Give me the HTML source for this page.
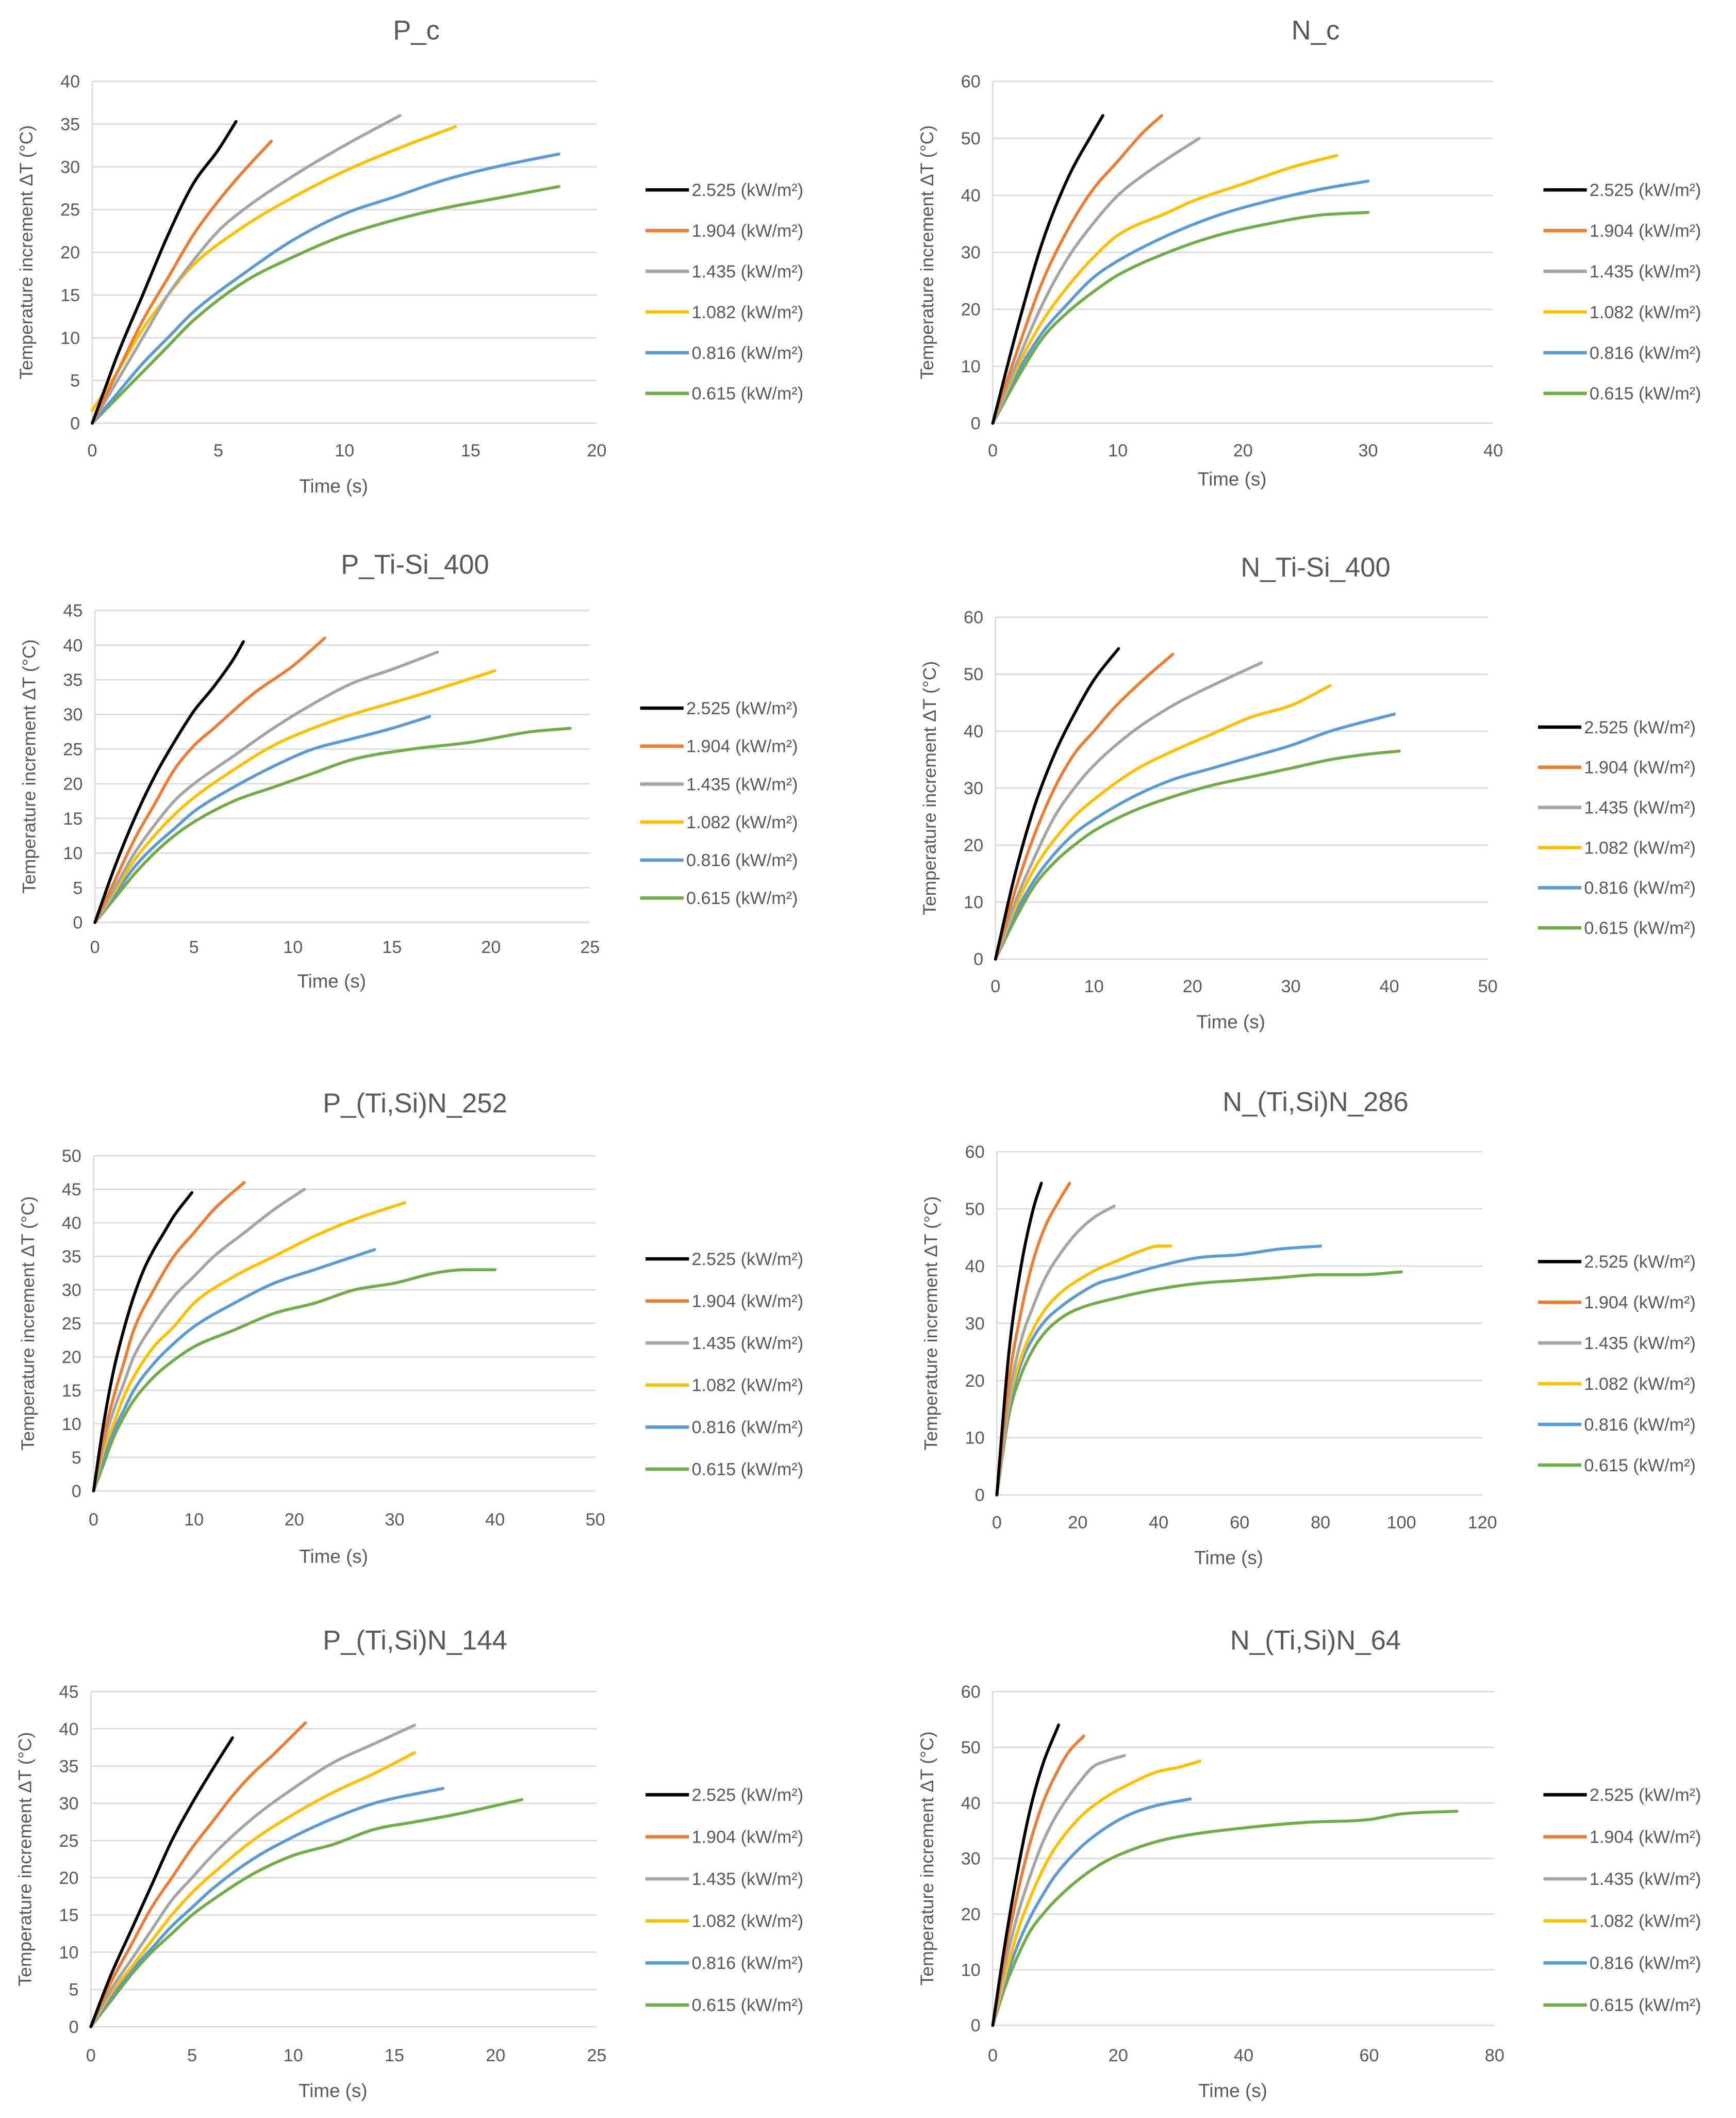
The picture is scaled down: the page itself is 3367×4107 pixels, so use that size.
<!DOCTYPE html>
<html><head><meta charset="utf-8">
<style>
html,body{margin:0;padding:0;background:#fff;}
svg{display:block;}
text{font-family:"Liberation Sans",sans-serif;fill:#595959;}
</style></head>
<body>
<svg id="root" width="3367" height="4107" viewBox="0 0 1280 1561.3" preserveAspectRatio="none" xmlns="http://www.w3.org/2000/svg"></svg>
<script>
// ---- data ----
const seriesLabels = ["2.525 (kW/m²)","1.904 (kW/m²)","1.435 (kW/m²)","1.082 (kW/m²)","0.816 (kW/m²)","0.615 (kW/m²)"];
const seriesColors = ["#000000","#ED7D31","#A5A5A5","#FFC000","#5B9BD5","#70AD47"];

const titles = ["P_c","N_c","P_Ti-Si_400","N_Ti-Si_400","P_(Ti,Si)N_252","N_(Ti,Si)N_286","P_(Ti,Si)N_144","N_(Ti,Si)N_64"];
const yMaxes = [40,60,45,60,50,60,45,60];
const yStepVals = [5,10,5,10,5,10,5,10];
const xMaxes = [20,40,25,50,50,120,25,80];
const xStepVals = [5,10,5,10,10,20,5,20];

const pc_t = [[0,0.5,1,2,3,4,5,5.7],[0,1,2,3,4,5,6,7.1],[0,1,2,3,4,5,6,8,10,12.2],[0,1,2,3,4,6,8,10,12,14.4],[0,1,2,3,4,6,8,10,12,14,16,18.5],[0,1,2,3,4,6,8,10,12,14,16,18.5]];
const pc_y = [[0,4,8,15,22,28,32,35.3],[0,6,12,17,22,26,29.5,33],[0,5,10,15,19,22.5,25,29,32.5,36],[1.5,6,11,15,18.5,23,26.5,29.5,32,34.7],[0,3.5,7,10,13,17.5,21.5,24.5,26.5,28.5,30,31.5],[0,3,6,9,12,16.5,19.5,22,23.8,25.2,26.3,27.7]];
const nc_t = [[0,2,4,6,8,8.8],[0,2,4,6,8,10,12,13.5],[0,2,4,6,8,10,12,14,16.5],[0,2,4,6,8,10,14,16,20,24,27.5],[0,2,4,6,8,10,14,18,22,26,30],[0,2,4,6,8,10,14,18,22,26,30]];
const nc_y = [[0,17,32,43,51,54],[0,13,25,34,41,46,51,54],[0,11,21,29,35,40,43.5,46.5,50],[0,10,18,24,29,33,37,39,42,45,47],[0,9,16,21,25.5,28.5,33,36.5,39,41,42.5],[0,8,15,19.5,23,26,30,33,35,36.5,37]];
const pts_t = [[0,1,2,3,4,5,6,7,7.5],[0,1,2,3,4,5,6,8,10,11.6],[0,1,2,3,4,5,7,9,11,13,15,17.3],[0,1,2,3,4,5,7,9,11,13,16,20.2],[0,1,2,3,4,5,7,9,11,13,15,16.9],[0,1,2,3,4,5,7,9,11,13,16,19,22,24]];
const pts_y = [[0,8,15,21,26,30.5,34,38,40.5],[0,6,12,17,22,25.5,28,33,37,41],[0,5,10,14,17.5,20,24,28,31.5,34.5,36.5,39],[0,4.5,9,12.5,15.5,18,22,25.5,28,30,32.5,36.3],[0,4,8,11,13.5,16,19.5,22.5,25,26.5,28,29.7],[0,3.5,7,10,12.5,14.5,17.5,19.5,21.5,23.5,25,26,27.5,28]];
const nts_t = [[0,2,4,6,8,10,12.5],[0,2,4,6,8,10,12,15,18],[0,2,4,6,8,10,14,18,22,27],[0,2,4,6,8,10,14,18,22,26,30,34],[0,2,4,6,8,10,14,18,22,26,30,34,40.5],[0,2,4,6,8,10,14,18,22,26,30,34,38,41]];
const nts_y = [[0,15,27,36,43,49,54.5],[0,12,22,30,36,40,44,49,53.5],[0,10,18,25,30,34,40,44.5,48,52],[0,9,16,21,25,28,33,36.5,39.5,42.5,44.5,48],[0,8,14,18.5,22,24.5,28.5,31.5,33.5,35.5,37.5,40,43],[0,7,13,17,20,22.5,26,28.5,30.5,32,33.5,35,36,36.5]];
const p252_t = [[0,1,2,3,4,5,6,7,8,9.8],[0,1,2,3,4,6,8,10,12,15],[0,1,2,3,4,6,8,10,12,15,18,21],[0,1,2,3,4,6,8,10,14,18,22,26,31],[0,1,2,3,4,6,8,10,14,18,22,28],[0,1,2,3,4,6,8,10,14,18,22,26,30,34,37,40]];
const p252_y = [[0,10,18,24,29,33,36,38.5,41,44.5],[0,8,14,19,24,30,35,38.5,42,46],[0,7,12,16,20,25,29,32,35,38.5,42,45],[0,6,10,14,17,21.5,24.5,28,32,35,38,40.5,43],[0,5,9,12,15,19,22,24.5,28,31,33,36],[0,4,8,11,13.5,17,19.5,21.5,24,26.5,28,30,31,32.5,33,33]];
const n286_t = [[0,3,6,9,11],[0,3,6,9,12,15,18],[0,3,6,9,12,16,20,24,29],[0,3,6,9,12,16,20,25,30,35,40,43],[0,3,6,9,12,16,20,25,30,40,50,60,70,80],[0,3,6,9,12,16,20,30,40,50,60,70,80,90,100]];
const n286_y = [[0,25,40,50,54.5],[0,20,32,41,47,51,54.5],[0,17,27,33,38,42.5,46,48.5,50.5],[0,16,24,29,32.5,35.5,37.5,39.5,41,42.5,43.5,43.5],[0,15,23,27.5,30.5,33,35,37,38,40,41.5,42,43,43.5],[0,14,21,25.5,28.5,31,32.5,34.5,36,37,37.5,38,38.5,38.5,39]];
const p144_t = [[0,1,2,3,4,5,6,7],[0,1,2,3,4,5,6,7,8,9,10.6],[0,1,2,3,4,5,6,8,10,12,14,16],[0,1,2,3,4,5,6,8,10,12,14,16],[0,1,2,3,4,5,6,8,10,12,14,17.4],[0,1,2,3,4,5,6,8,10,12,14,16,18,21.3]];
const p144_y = [[0,7,13,19,25,30,34.5,38.8],[0,6,11,16,20,24,27.5,31,34,36.5,40.8],[0,5,9,13,17,20,23,28,32,35.5,38,40.5],[0,4.5,8,11.5,15,18,20.5,25,28.5,31.5,34,36.8],[0,4,7.5,10.5,13.5,16,18.5,22.5,25.5,28,30,32],[0,3.5,7,10,12.5,15,17,20.5,23,24.5,26.5,27.5,28.5,30.5]];
const n64_t = [[0,2,4,6,8,10.5],[0,2,4,6,8,10,12,14.5],[0,2,4,6,8,10,12,14,16,18,21],[0,2,4,6,8,10,14,18,22,26,30,33],[0,2,4,6,8,10,14,18,22,26,31.5],[0,2,4,6,8,10,14,18,22,26,30,40,50,60,65,74]];
const n64_y = [[0,15,28,39,47,54],[0,13,24,33,40,45,49,52],[0,11,20,27,33,37.5,41,44,46.5,47.5,48.5],[0,9,17,23,28,32,37.5,41,43.5,45.5,46.5,47.5],[0,8,14.5,19.5,23.5,27,32,35.5,38,39.5,40.7],[0,7,12.5,17,20,22.5,26.5,29.5,31.5,33,34,35.5,36.5,37,38,38.5]];

const allT = [pc_t,nc_t,pts_t,nts_t,p252_t,n286_t,p144_t,n64_t];
const allY = [pc_y,nc_y,pts_y,nts_y,p252_y,n286_y,p144_y,n64_y];

// ---- layout (display units) ----
const layout = [
 {l:68,r:440,t:60,b:312,ty:22,tx:307,tk:332,xl:358,lx:476,ly0:140,lstep:30},
 {l:732,r:1101,t:60,b:312,ty:22,tx:970,tk:332,xl:353,lx:1138,ly0:140,lstep:30},
 {l:70,r:435,t:450,b:680,ty:416,tx:306,tk:698,xl:723,lx:472,ly0:522,lstep:28},
 {l:734,r:1097,t:455,b:707,ty:418,tx:970,tk:727,xl:753,lx:1134,ly0:536,lstep:29.6},
 {l:69,r:439,t:852,b:1099,ty:813,tx:306,tk:1120,xl:1147,lx:476,ly0:928,lstep:31},
 {l:735,r:1093,t:849,b:1102,ty:812,tx:970,tk:1122,xl:1148,lx:1134,ly0:930,lstep:30},
 {l:67,r:440,t:1247,b:1494,ty:1209,tx:306,tk:1515,xl:1541,lx:476,ly0:1323,lstep:31},
 {l:732,r:1102,t:1247,b:1493,ty:1209,tx:970,tk:1515,xl:1541,lx:1138,ly0:1323,lstep:31}
];

const NS="http://www.w3.org/2000/svg";
const root=document.getElementById('root');
function mk(tag,attrs,parent){const e=document.createElementNS(NS,tag);for(const k in attrs)e.setAttribute(k,attrs[k]);parent.appendChild(e);return e;}

// monotone cubic path through pixel points
function smoothPath(X,Y){
  const n=X.length;
  if(n<3){let d='';for(let i=0;i<n;i++)d+=(i?'L':'M')+X[i]+','+Y[i];return d;}
  const dx=[],m=[],tg=[];
  for(let i=0;i<n-1;i++){dx.push(X[i+1]-X[i]);m.push((Y[i+1]-Y[i])/(X[i+1]-X[i]));}
  tg[0]=m[0];tg[n-1]=m[n-2];
  for(let i=1;i<n-1;i++){tg[i]=(m[i-1]*m[i]<=0)?0:(m[i-1]+m[i])/2;}
  for(let i=0;i<n-1;i++){
    if(m[i]===0){tg[i]=0;tg[i+1]=0;continue;}
    const a=tg[i]/m[i],b=tg[i+1]/m[i],s=a*a+b*b;
    if(s>9){const t=3/Math.sqrt(s);tg[i]=t*a*m[i];tg[i+1]=t*b*m[i];}
  }
  let d='M'+X[0].toFixed(2)+','+Y[0].toFixed(2);
  for(let i=0;i<n-1;i++){
    const h=dx[i]/3;
    d+='C'+(X[i]+h).toFixed(2)+','+(Y[i]+tg[i]*h).toFixed(2)+' '+(X[i+1]-h).toFixed(2)+','+(Y[i+1]-tg[i+1]*h).toFixed(2)+' '+X[i+1].toFixed(2)+','+Y[i+1].toFixed(2);
  }
  return d;
}

for(let c=0;c<8;c++){
  const L=layout[c];
  const g=mk('g',{},root);
  
  
  const xs=v=>L.l+(v/xMaxes[c])*(L.r-L.l);
  const ys=v=>L.b-(v/yMaxes[c])*(L.b-L.t);
  const cx=(L.l+L.r)/2;
  const tt=mk('text',{x:L.tx,y:L.ty+7,'text-anchor':'middle','font-size':20},g);
  tt.textContent=titles[c];
  
  
  for(let v=0;v<=yMaxes[c]+1e-9;v+=yStepVals[c]){
    const ln=mk('line',{x1:L.l,x2:L.r,y1:ys(v),y2:ys(v),stroke:'#d9d9d9','stroke-width':1},g);
    
    
    const t=mk('text',{x:L.l-9,y:ys(v)+4.5,'text-anchor':'end','font-size':13},g);
    t.textContent=String(v);
    
    
  }
  const ax=mk('line',{x1:L.l,x2:L.l,y1:L.t,y2:L.b,stroke:'#d9d9d9','stroke-width':1},g);
  
  
  for(let v=0;v<=xMaxes[c]+1e-9;v+=xStepVals[c]){
    const t=mk('text',{x:xs(v),y:L.tk+4.5,'text-anchor':'middle','font-size':13},g);
    t.textContent=String(v);
    
    
  }
  const xl=mk('text',{x:cx-8,y:L.xl+5,'text-anchor':'middle','font-size':14},g);
  xl.textContent='Time (s)';
  
  
  const ym=(L.t+L.b)/2;
  const yl=mk('text',{x:0,y:0,'text-anchor':'middle','font-size':13.5,transform:'translate('+(L.l-44)+','+ym+') rotate(-90)'},g);
  yl.textContent='Temperature increment ΔT (°C)';
  
  
  for(let s=5;s>=0;s--){
    const T=allT[c][s],Y=allY[c][s];
    const d=smoothPath(T.map(xs),Y.map(ys));
    const p=mk('path',{d:d,fill:'none',stroke:seriesColors[s],'stroke-width':2.2,'stroke-linejoin':'round','stroke-linecap':'round'},g);
    
    
  }
  for(let s=0;s<6;s++){
    const y=L.ly0+s*L.lstep;
    const lg=mk('g',{},g);
    
    
    mk('line',{x1:L.lx,x2:L.lx+32,y1:y,y2:y,stroke:seriesColors[s],'stroke-width':2.5},lg);
    const t=mk('text',{x:L.lx+34,y:y+4.5,'font-size':13},lg);
    t.textContent=seriesLabels[s];
  }
}
</script>
</body></html>
